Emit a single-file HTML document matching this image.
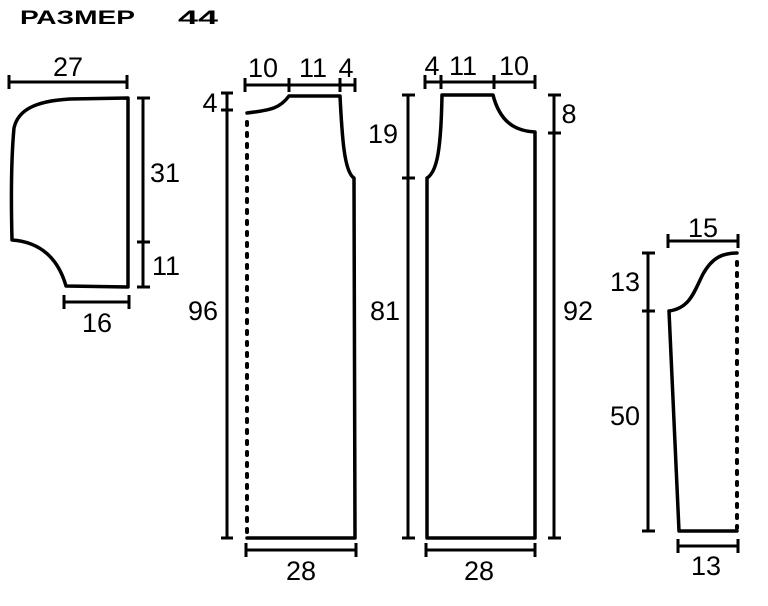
<!DOCTYPE html>
<html><head><meta charset="utf-8"><style>
html,body{margin:0;padding:0;background:#fff;width:768px;height:606px;overflow:hidden}
svg{display:block}
text{font-family:"Liberation Sans",Arial,sans-serif;font-size:27px;fill:#000}
</style></head><body>
<svg width="768" height="606" viewBox="0 0 768 606" xmlns="http://www.w3.org/2000/svg">
<g fill="none" stroke="#000" stroke-width="3.5" stroke-linecap="round" stroke-linejoin="round">
<path d="M128,98 L70,99 C35,101 18,110 14,128 C11,160 11,200 12,240 C40,242 58,258 66,286 L128,287 Z"/>
<path d="M247,113 C272,110 280,108 289,96 L340,96 C342,135 344,172 354,178 L355,538 L247,538"/>
<path d="M427,178 C437,172 441,150 442,95 L493,95 C500,122 515,131 535,132 L535,538 L427,538 Z"/>
<path d="M737,253 C722,253 712,258 703,274 C694,292 690,308 669,311 L679,531 L737,531"/>
</g>
<g fill="none" stroke="#000" stroke-width="4" stroke-dasharray="3,8" stroke-linecap="round">
<line x1="247" y1="122" x2="247" y2="536"/>
<line x1="737" y1="262" x2="737" y2="528"/>
</g>
<g fill="none" stroke="#000" stroke-width="3">
<path d="M9,82 H127 M9,75 V89 M127,75 V89"/>
<path d="M143,98 V287 M137,98 H150 M137,242 H150 M137,287 H150"/>
<path d="M64,302 H129 M64,295 V309 M129,295 V309"/>
<path d="M245,85 H355 M245,78 V92 M289,78 V92 M340,78 V92 M355,78 V92"/>
<path d="M227,93 V538 M221,93 H233 M221,110 H233 M221,538 H233"/>
<path d="M246,550 H356 M246,543 V557 M356,543 V557"/>
<path d="M425,82 H535 M425,75 V89 M441,75 V89 M494,75 V89 M535,75 V89"/>
<path d="M408,95 V538 M402,95 H415 M402,178 H415 M402,538 H415"/>
<path d="M554,95 V538 M548,95 H561 M548,133 H561 M548,538 H561"/>
<path d="M426,550 H535 M426,543 V557 M535,543 V557"/>
<path d="M668,241 H738 M668,234 V248 M738,234 V248"/>
<path d="M648,253 V531 M642,253 H655 M642,311 H655 M642,531 H655"/>
<path d="M678,546 H738 M678,539 V553 M738,539 V553"/>
</g>
<text x="20" y="24" style="font-size:19px;font-weight:bold" textLength="115" lengthAdjust="spacingAndGlyphs">РАЗМЕР</text>
<text x="178" y="24" style="font-size:19px;font-weight:bold" textLength="40" lengthAdjust="spacingAndGlyphs">44</text>
<text x="68" y="76" text-anchor="middle">27</text>
<text x="165" y="182" text-anchor="middle">31</text>
<text x="166" y="275" text-anchor="middle">11</text>
<text x="97" y="332" text-anchor="middle">16</text>
<text x="263" y="77" text-anchor="middle">10</text>
<text x="313" y="77" text-anchor="middle">11</text>
<text x="346" y="77" text-anchor="middle">4</text>
<text x="210" y="112" text-anchor="middle">4</text>
<text x="203" y="320" text-anchor="middle">96</text>
<text x="301" y="580" text-anchor="middle">28</text>
<text x="432" y="75" text-anchor="middle">4</text>
<text x="463" y="75" text-anchor="middle">11</text>
<text x="514" y="75" text-anchor="middle">10</text>
<text x="383" y="143" text-anchor="middle">19</text>
<text x="385" y="320" text-anchor="middle">81</text>
<text x="569" y="123" text-anchor="middle">8</text>
<text x="578" y="320" text-anchor="middle">92</text>
<text x="479" y="580" text-anchor="middle">28</text>
<text x="703" y="237" text-anchor="middle">15</text>
<text x="625" y="291" text-anchor="middle">13</text>
<text x="625" y="425" text-anchor="middle">50</text>
<text x="706" y="575" text-anchor="middle">13</text>
</svg>
</body></html>
